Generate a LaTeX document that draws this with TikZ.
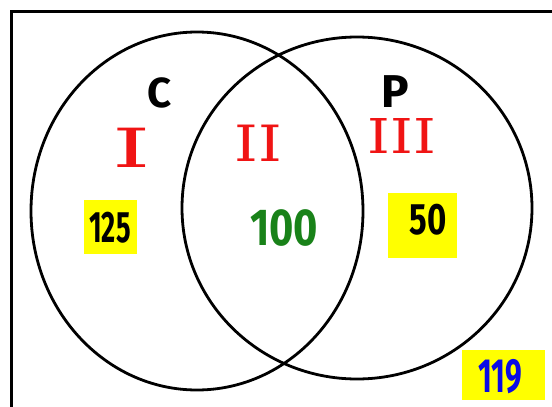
\documentclass[tikz,border=0pt]{standalone}
\usepackage{fontspec}
\newfontfamily\handfont{Fira Sans}
\newfontfamily\numeralfont{DejaVu Serif}
\definecolor{hilite}{RGB}{255,255,0}
\definecolor{numred}{RGB}{240,20,20}
\definecolor{numgreen}{RGB}{25,130,25}
\definecolor{numblue}{RGB}{10,10,230}
\tikzset{
  outline/.style={line width=3pt},
  setline/.style={line width=2.8pt},
  hlbox/.style={fill=hilite, inner sep=0pt},
  label/.style={inner sep=0pt, font=\handfont\bfseries},
  roman/.style={inner sep=0pt, text=numred, font=\numeralfont}
}
\newcommand{\sz}[1]{\fontsize{#1}{#1}\selectfont}
\begin{document}
\begin{tikzpicture}[x=1pt,y=-1pt]
\useasboundingbox (0,0) rectangle (552,407);
\fill[white] (0,0) rectangle (552,407);

% universal set frame (runs off the right and bottom edges)
\coordinate (frameBL) at (11,420);
\coordinate (frameTL) at (11,11);
\coordinate (frameTR) at (570,11);
\draw[outline] (frameBL) -- (frameTL) -- (frameTR);

% the two sets
\draw[setline] (197,211) ellipse [x radius=166pt, y radius=179pt];
\draw[setline] (357,208) ellipse [x radius=175pt, y radius=171pt];

% set names
\node[label] (nameC) at (160,93) {\sz{42}C};
\node[label] (nameP) at (395,92) {\sz{46}P};

% region numerals
\node[roman] (regI)   at (132,148) {\scalebox{1.8}[1]{\sz{54}I}};
\node[roman] (regII)  at (258,143) {\scalebox{1.2}[1]{\sz{50}II}};
\node[roman] (regIII) at (402,136) {\scalebox{1.2}[1]{\sz{48}III}};

% highlighted counts
\node[hlbox, minimum width=53pt, minimum height=54pt] (hlA) at (110.5,227) {};
\node[label] (cntA) at (110,228) {\scalebox{0.62}[1]{\sz{44}125}};

\node[label, text=numgreen] (cntB) at (284,228) {\scalebox{0.8}[1]{\sz{52}100}};

\node[hlbox, minimum width=69pt, minimum height=65pt] (hlC) at (422.5,225.5) {};
\node[label] (cntC) at (428,220) {\scalebox{0.75}[1]{\sz{44}50}};

\node[hlbox, minimum width=83pt, minimum height=50pt] (hlD) at (503.5,375) {};
\node[label, text=numblue] (cntD) at (500,377) {\scalebox{0.62}[1]{\sz{48}119}};
\end{tikzpicture}
\end{document}
